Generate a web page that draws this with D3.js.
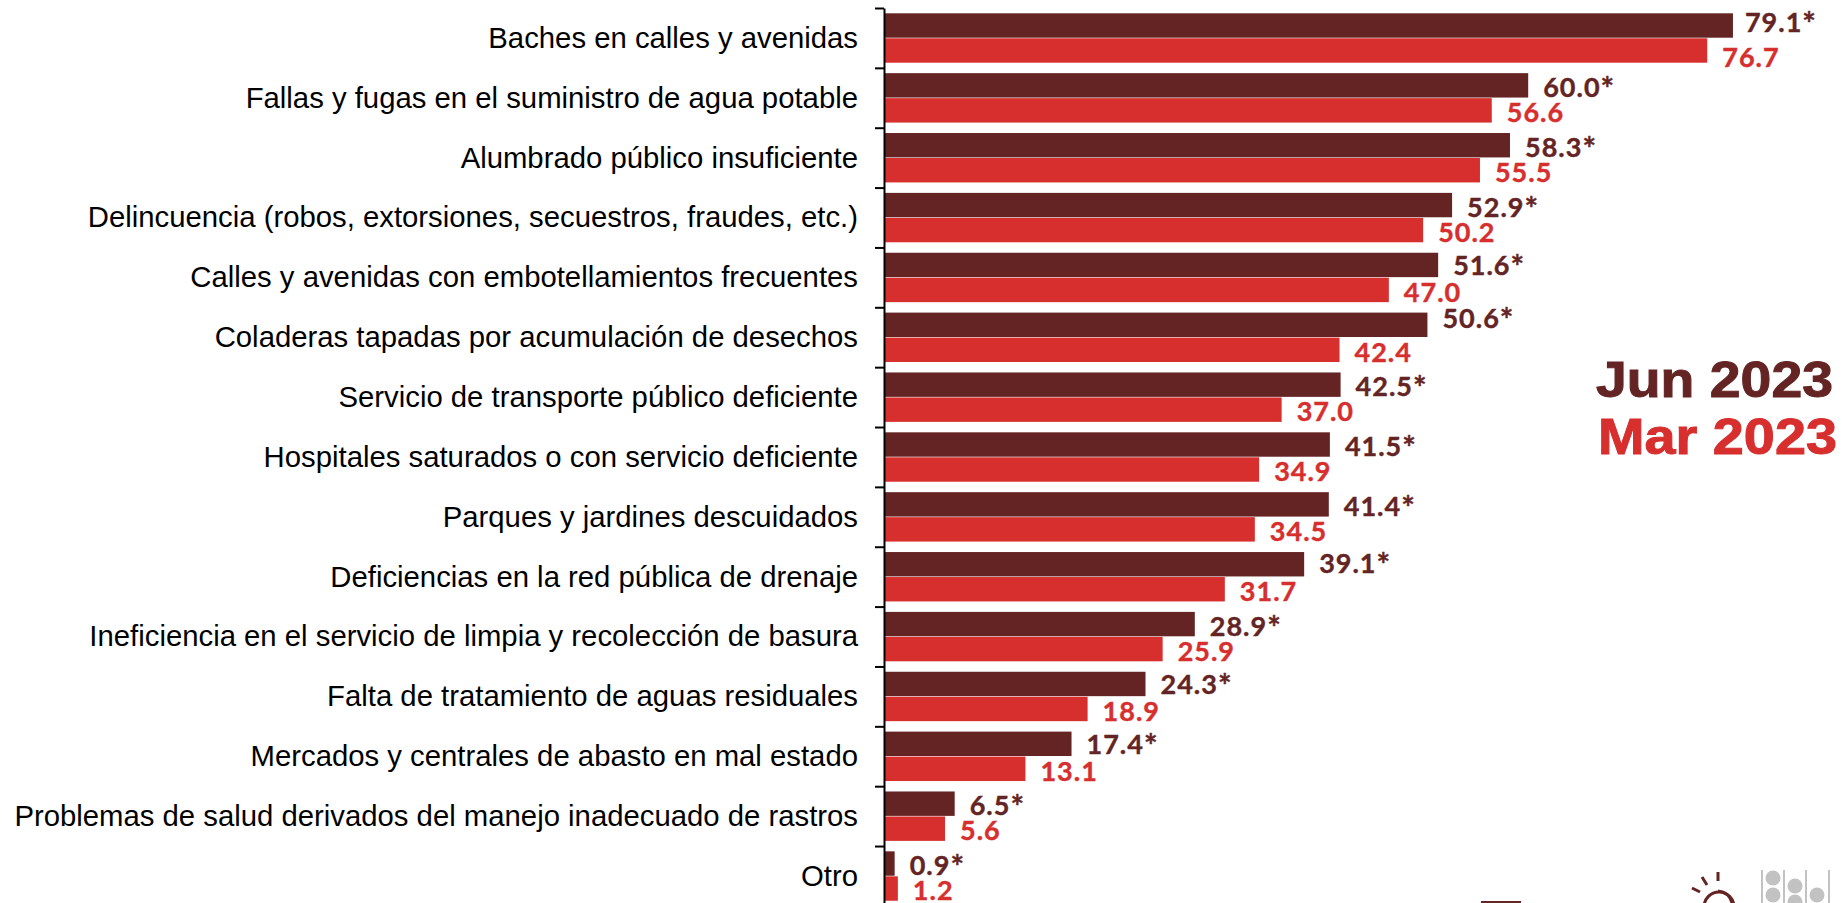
<!DOCTYPE html>
<html>
<head>
<meta charset="utf-8">
<script src="https://cdn.jsdelivr.net/npm/d3@7/dist/d3.min.js"></script>
<style>
  html, body { margin: 0; padding: 0; background: #fff; overflow: hidden; }
</style>
</head>
<body>
<div id="container"></div>
<script>
/* CONSTANTS AND GLOBALS */
const width = 1842;
const height = 903;

const categories = [
  "Baches en calles y avenidas",
  "Fallas y fugas en el suministro de agua potable",
  "Alumbrado público insuficiente",
  "Delincuencia (robos, extorsiones, secuestros, fraudes, etc.)",
  "Calles y avenidas con embotellamientos frecuentes",
  "Coladeras tapadas por acumulación de desechos",
  "Servicio de transporte público deficiente",
  "Hospitales saturados o con servicio deficiente",
  "Parques y jardines descuidados",
  "Deficiencias en la red pública de drenaje",
  "Ineficiencia en el servicio de limpia y recolección de basura",
  "Falta de tratamiento de aguas residuales",
  "Mercados y centrales de abasto en mal estado",
  "Problemas de salud derivados del manejo inadecuado de rastros",
  "Otro"
];
const jun2023 = [79.1, 60.0, 58.3, 52.9, 51.6, 50.6, 42.5, 41.5, 41.4, 39.1, 28.9, 24.3, 17.4, 6.5, 0.9];
const mar2023 = [76.7, 56.6, 55.5, 50.2, 47.0, 42.4, 37.0, 34.9, 34.5, 31.7, 25.9, 18.9, 13.1, 5.6, 1.2];
const seriesNames = ["Jun 2023", "Mar 2023"];
const seriesColors = ["#642424", "#D72E2E"];

const svg = d3.select("#container")
  .append("svg")
  .attr("width", width)
  .attr("height", height)
  .style("display", "block");

/* SCALES */
const axisX = 884;
const topY = 8;
const step = 59.86;

const xScale = d3.scaleLinear()
  .domain([0, 80])
  .range([axisX + 1, axisX + 1 + 80 * 10.72]);

const yScale = d3.scaleBand()
  .domain(categories)
  .range([topY, topY + step * categories.length]);

// band for the two bars inside one category
const innerScale = d3.scaleBand()
  .domain(seriesNames)
  .range([5.3, 55.3]);

const edgeScale = d3.scaleLinear()
  .domain([0, categories.length])
  .range([topY, topY + step * categories.length]);

// hand placed labels in the original, moved up or down a bit
const labelNudge = [
  { 0: -5, 5: -9, 9: -3, 4: -2, 11: -2, 12: -2 },
  { 0: 5 }
];

/* BARS */
const series = [jun2023, mar2023];

series.forEach((values, s) => {
  const rows = categories.map((c, i) => ({ category: c, value: values[i], index: i }));

  svg.append("g").selectAll("rect")
    .data(rows)
    .join("rect")
    .attr("x", xScale(0))
    .attr("y", d => yScale(d.category) + innerScale(seriesNames[s]))
    .attr("width", d => xScale(d.value) - xScale(0))
    .attr("height", innerScale.bandwidth() - 0.6)
    .attr("fill", seriesColors[s]);

  // value labels, june ones have the star
  const labels = svg.append("g").selectAll("text")
    .data(rows)
    .join("text")
    .attr("x", d => xScale(d.value) + (s === 0 && d.index === 0 ? 12 : 15))
    .attr("y", d => yScale(d.category) + innerScale(seriesNames[s]) + innerScale.bandwidth() - 1 + (labelNudge[s][d.index] || 0))
    .attr("fill", seriesColors[s])
    .attr("stroke", seriesColors[s])
    .attr("stroke-width", 0.4)
    .style("font-family", "Lato, sans-serif")
    .style("font-weight", 700)
    .style("font-size", "27px")
    .style("letter-spacing", "1px")
    .text(d => d.value.toFixed(1));

  if (s === 0) {
    labels.append("tspan")
      .attr("dy", 4)
      .style("font-size", "32px")
      .text("*");
  }
});

/* AXIS */
const yAxis = svg.append("g")
  .attr("transform", `translate(${axisX}, 0)`)
  .call(d3.axisLeft(yScale).tickSize(0).tickPadding(26));

yAxis.select(".domain").remove();
yAxis.selectAll("text")
  .attr("fill", "#000")
  .attr("dy", "0.34em")
  .style("font-family", "'Liberation Sans', Arial, sans-serif")
  .style("font-size", "29.3px");

// tick marks sit between categories, not on them
const edgeAxis = svg.append("g")
  .attr("transform", `translate(${axisX}, 0)`)
  .call(d3.axisLeft(edgeScale)
    .tickValues(d3.range(categories.length))
    .tickFormat("")
    .tickSize(9)
    .tickSizeOuter(0));

edgeAxis.selectAll("line, path")
  .attr("stroke", "#000")
  .attr("stroke-width", 2);

/* LEGEND */
const legendY = [397, 454];
svg.append("g").selectAll("text")
  .data(seriesNames)
  .join("text")
  .attr("x", (d, i) => i === 0 ? 1596 : 1598)
  .attr("y", (d, i) => legendY[i])
  .attr("textLength", (d, i) => i === 0 ? 237 : 239)
  .attr("lengthAdjust", "spacingAndGlyphs")
  .attr("fill", (d, i) => seriesColors[i])
  .style("font-family", "'Liberation Sans', Arial, sans-serif")
  .style("font-weight", 700)
  .style("font-size", "50px")
  .style("stroke", (d, i) => seriesColors[i])
  .style("stroke-width", 1)
  .text(d => d);

/* LOGOS, cut by the bottom edge */
const logo = svg.append("g");

logo.append("rect")
  .attr("x", 1481).attr("y", 901)
  .attr("width", 40).attr("height", 4)
  .attr("fill", "#642424");

// sun
const sun = logo.append("g")
  .attr("fill", "none")
  .attr("stroke", "#642424")
  .attr("stroke-width", 3);
sun.append("circle").attr("cx", 1719).attr("cy", 907).attr("r", 15);
sun.append("path").attr("d", "M1718 872V881M1702 877L1707 885M1692 888L1700 892M1718 891Q1729 892 1732 903");

// grey columns
const grey = logo.append("g").attr("fill", "#c2c2c2");
[1762, 1784, 1806, 1829].forEach(x => {
  grey.append("rect").attr("x", x - 1).attr("y", 870).attr("width", 2).attr("height", 33);
});
[[1773, 878], [1773, 895], [1795, 886], [1795, 902], [1817, 895]].forEach(p => {
  grey.append("circle").attr("cx", p[0]).attr("cy", p[1]).attr("r", 7.5);
});
</script>
</body>
</html>
